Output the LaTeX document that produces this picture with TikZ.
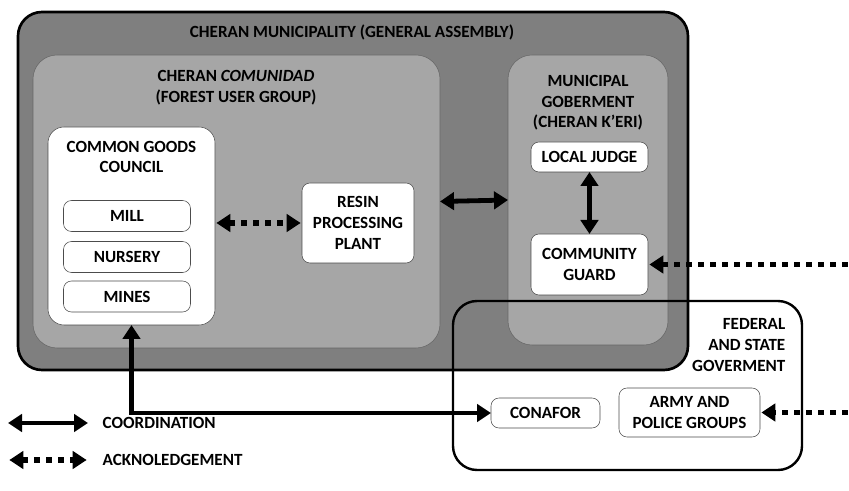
\documentclass[tikz,border=0pt]{standalone}
\usepackage{fontspec}
\setmainfont{Carlito}
\usetikzlibrary{arrows.meta}
\definecolor{darkbox}{HTML}{7F7F7F}
\definecolor{lightbox}{HTML}{A6A6A6}
\begin{document}
\begin{tikzpicture}[x=0.75pt,y=-0.75pt,font=\fontsize{12.8}{15.5}\selectfont\bfseries]
		\tikzset{panel/.style = {shape=rectangle,draw,inner sep=0pt,outer sep=0pt,align=center}}
		\tikzset{whitebox/.style = {panel,fill=white,draw=black!70,rounded corners=6pt}}
		\tikzset{coord/.style = {<->,line width=3.6pt,>={Triangle[length=10.5pt,width=13pt]}}}
		\tikzset{ackn/.style = {<->,line width=4.2pt,dash pattern=on 4.5pt off 4.5pt,>={Triangle[length=10.5pt,width=13pt]},shorten <=1pt,shorten >=1pt}}
		\useasboundingbox (0,0) rectangle (849,491);
		% municipality and the two groups
		\node[panel,fill=darkbox,line width=2pt,rounded corners=18pt,minimum width=502.5pt,minimum height=268.5pt] (muni) at (353,191) {};
		\node (munititle) at (352,32) {CHERAN MUNICIPALITY (GENERAL ASSEMBLY)};
		\node[panel,fill=lightbox,draw=black!60,rounded corners=18pt,minimum width=305.25pt,minimum height=219.75pt] (comunidad) at (236.5,201.5) {};
		\node[align=center] (comtitle) at (236,88) {CHERAN \textit{COMUNIDAD}\\(FOREST USER GROUP)};
		\node[panel,fill=lightbox,draw=black!60,rounded corners=18pt,minimum width=120pt,minimum height=217.5pt] (municipal) at (588,200) {};
		\node[align=center] (govtitle) at (588,103) {MUNICIPAL\\GOBERMENT\\(CHERAN K'ERI)};
		% common goods council
		\node[whitebox,rounded corners=12pt,minimum width=125.25pt,minimum height=148.5pt] (council) at (131.5,226) {};
		\node[align=center] (counciltitle) at (131.5,157) {COMMON GOODS\\COUNCIL};
		\node[whitebox,minimum width=95.25pt,minimum height=23.25pt] (mill) at (127,216) {MILL};
		\node[whitebox,minimum width=95.25pt,minimum height=23.25pt] (nursery) at (127,257) {NURSERY};
		\node[whitebox,minimum width=95.25pt,minimum height=23.25pt] (mines) at (127,296.5) {MINES};
		\node[whitebox,minimum width=84pt,minimum height=60pt] (resin) at (358,223) {RESIN\\PROCESSING\\PLANT};
		\node[whitebox,minimum width=87.75pt,minimum height=22.5pt] (judge) at (589.5,157) {LOCAL JUDGE};
		\node[whitebox,minimum width=87.75pt,minimum height=45.75pt] (guard) at (589.5,264.5) {COMMUNITY\\GUARD};
		% federal and state
		\node[panel,line width=1.8pt,rounded corners=18pt,minimum width=261.75pt,minimum height=126.75pt] (federal) at (627.5,385.5) {};
		\node[align=right,anchor=north east] (fedtitle) at (790,314) {FEDERAL\\AND STATE\\GOVERMENT};
		\node[whitebox,minimum width=81.75pt,minimum height=22.5pt] (conafor) at (545.5,413) {CONAFOR};
		\node[whitebox,minimum width=105.75pt,minimum height=36.75pt] (army) at (689.5,412.5) {ARMY AND\\POLICE GROUPS};
		% connectors
		\coordinate (guardin) at (849,264.5);
		\coordinate (armyin) at (849,412.5);
		\draw[coord] (comunidad.east) -- (municipal.west);
		\draw[coord] (judge.south) -- (guard.north);
		\draw[coord] (council.south) |- (conafor.west);
		\draw[ackn] (council.east |- resin) -- (resin.west);
		\draw[ackn,-{Triangle[length=10.5pt,width=13pt]}] (guardin) -- (guard.east);
		\draw[ackn,-{Triangle[length=10.5pt,width=13pt]}] (armyin) -- (army.east);
		% legend
		\coordinate (coordA) at (8,423);
		\coordinate (coordB) at (88,423);
		\coordinate (acknA) at (8,460);
		\coordinate (acknB) at (88,460);
		\draw[coord] (coordA) -- (coordB);
		\draw[ackn] (acknA) -- (acknB);
		\node[anchor=west] (coordtext) at (98,423) {COORDINATION};
		\node[anchor=west] (ackntext) at (98,460) {ACKNOLEDGEMENT};
	\end{tikzpicture}
\end{document}
